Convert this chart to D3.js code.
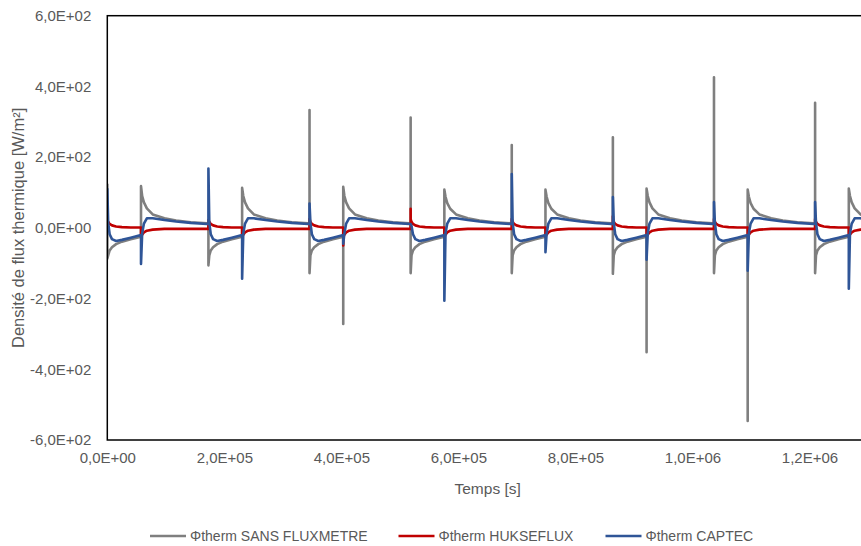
<!DOCTYPE html>
<html><head><meta charset="utf-8">
<script src="https://cdn.jsdelivr.net/npm/d3@7"></script>
<style>body{margin:0;background:#fff} svg{display:block}</style>
</head><body><svg id="chart" width="861" height="546"></svg>
<script>
// ---------- data ----------
const seriesNames = ["\u03A6therm SANS FLUXMETRE", "\u03A6therm HUKSEFLUX", "\u03A6therm CAPTEC"];
const seriesColors = ["#7f7f7f", "#c00000", "#2f5597"];

// time in seconds
const time = [
  0, 0, 0, 1500, 4000, 8000, 15000, 25000, 40000, 56000,
  57600, 57600, 57600, 59600, 62600, 67600, 77600, 97600, 117600, 142600, 170600,
  172800, 172800, 172800, 174300, 176800, 180800, 187800, 197800, 212800, 228800,
  230400, 230400, 230400, 232400, 235400, 240400, 250400, 270400, 290400, 315400, 343400,
  345600, 345600, 345600, 347100, 349600, 353600, 360600, 370600, 385600, 401600,
  403200, 403200, 403200, 405200, 408200, 413200, 423200, 443200, 463200, 488200, 516200,
  518400, 518400, 518400, 519900, 522400, 526400, 533400, 543400, 558400, 574400,
  576000, 576000, 576000, 578000, 581000, 586000, 596000, 616000, 636000, 661000, 689000,
  691200, 691200, 691200, 692700, 695200, 699200, 706200, 716200, 731200, 747200,
  748800, 748800, 748800, 750800, 753800, 758800, 768800, 788800, 808800, 833800, 861800,
  864000, 864000, 864000, 865500, 868000, 872000, 879000, 889000, 904000, 920000,
  921600, 921600, 921600, 923600, 926600, 931600, 941600, 961600, 981600, 1006600, 1034600,
  1036800, 1036800, 1036800, 1038300, 1040800, 1044800, 1051800, 1061800, 1076800, 1092800,
  1094400, 1094400, 1094400, 1096400, 1099400, 1104400, 1114400, 1134400, 1154400, 1179400, 1207400,
  1209600, 1209600, 1209600, 1211100, 1213600, 1217600, 1224600, 1234600, 1249600, 1265600,
  1267200, 1267200, 1267200, 1269200, 1272200, 1277200, 1287200, 1307200, 1327200, 1352200, 1380200
];

// W/m2
const sansFluxmetre = [
  125, 125, -87, -78, -64, -55, -46, -39, -32, -26,
  -26, -26, 118, 90, 72, 55, 38, 27, 21, 16, 13,
  13, 13, -106, -78, -64, -55, -46, -39, -32, -26,
  -26, -26, 113, 90, 72, 55, 38, 27, 21, 16, 13,
  13, 333, -128, -78, -64, -55, -46, -39, -32, -26,
  -26, -272, 116, 90, 72, 55, 38, 27, 21, 16, 13,
  13, 312, -128, -78, -64, -55, -46, -39, -32, -26,
  -26, -26, 108, 88, 70, 54, 38, 27, 21, 16, 13,
  13, 234, -128, -78, -64, -55, -46, -39, -32, -26,
  -26, -26, 108, 88, 70, 54, 38, 27, 21, 16, 13,
  13, 256, -130, -78, -64, -55, -46, -39, -32, -26,
  -26, -352, 111, 90, 72, 55, 38, 27, 21, 16, 13,
  13, 426, -128, -78, -64, -55, -46, -39, -32, -26,
  -26, -546, 108, 88, 70, 54, 38, 27, 21, 16, 13,
  13, 354, -128, -78, -64, -55, -46, -39, -32, -26,
  -26, -26, 111, 90, 72, 55, 38, 27, 21, 16, 13
];

const hukseflux = [
  22, 22, 22, 17, 11, 7, 4, 2, 1, 1,
  1, -25, -25, -19, -13, -8, -5, -3, -3, -3, -3,
  -3, 22, 22, 17, 11, 7, 4, 2, 1, 1,
  1, -27, -27, -19, -13, -8, -5, -3, -3, -3, -3,
  -3, 25, 25, 17, 11, 7, 4, 2, 1, 1,
  1, -50, -27, -19, -13, -8, -5, -3, -3, -3, -3,
  -3, 54, 25, 17, 11, 7, 4, 2, 1, 1,
  1, -27, -27, -19, -13, -8, -5, -3, -3, -3, -3,
  -3, 25, 25, 17, 11, 7, 4, 2, 1, 1,
  1, -25, -25, -19, -13, -8, -5, -3, -3, -3, -3,
  -3, 33, 25, 17, 11, 7, 4, 2, 1, 1,
  1, -25, -25, -19, -13, -8, -5, -3, -3, -3, -3,
  -3, 25, 25, 17, 11, 7, 4, 2, 1, 1,
  1, -25, -25, -19, -13, -8, -5, -3, -3, -3, -3,
  -3, 25, 25, 17, 11, 7, 4, 2, 1, 1,
  1, -25, -25, -19, -13, -8, -5, -3, -3, -3, -3
];

const captec = [
  112, 112, 112, 15, -18, -32, -37, -34, -28, -21,
  -21, -102, -102, -15, 12, 27, 27, 22, 18, 14, 11,
  11, 168, 168, 15, -18, -32, -37, -34, -28, -21,
  -21, -144, -144, -15, 12, 27, 27, 22, 18, 14, 11,
  11, 69, 69, 15, -18, -32, -37, -34, -28, -21,
  -21, -45, -45, -15, 12, 27, 27, 22, 18, 14, 11,
  11, 11, 11, 5, -18, -32, -37, -34, -28, -21,
  -21, -206, -206, -15, 12, 27, 27, 22, 18, 14, 11,
  11, 152, 152, 15, -18, -32, -37, -34, -28, -21,
  -21, -69, -69, -15, 12, 27, 27, 22, 18, 14, 11,
  11, 87, 87, 15, -18, -32, -37, -34, -28, -21,
  -21, -90, -90, -15, 12, 27, 27, 22, 18, 14, 11,
  11, 73, 73, 15, -18, -32, -37, -34, -28, -21,
  -21, -121, -121, -15, 12, 27, 27, 22, 18, 14, 11,
  11, 73, 73, 15, -18, -32, -37, -34, -28, -21,
  -21, -172, -172, -15, 12, 27, 27, 22, 18, 14, 11
];

const xTicks = [0, 200000, 400000, 600000, 800000, 1000000, 1200000];
const xTickLabels = ["0,0E+00", "2,0E+05", "4,0E+05", "6,0E+05", "8,0E+05", "1,0E+06", "1,2E+06"];
const yTicks = [-600, -400, -200, 0, 200, 400, 600];
const yTickLabels = ["-6,0E+02", "-4,0E+02", "-2,0E+02", "0,0E+00", "2,0E+02", "4,0E+02", "6,0E+02"];
const xTitle = "Temps [s]";
const yTitle = "Densit\u00e9 de flux thermique [W/m\u00b2]";

// ---------- drawing ----------
const W = 861, H = 546;
const m = {left: 107.3, top: 15.7, right: 868, bottom: 440};
const font = "'Liberation Sans', Arial, sans-serif";
const textColor = "#595959";

const svg = d3.select("#chart");
svg.append("rect").attr("width", W).attr("height", H).attr("fill", "#fff");

const x = d3.scaleLinear().domain([0, 1300000]).range([m.left, m.right]);
const y = d3.scaleLinear().domain([-600, 600]).range([m.bottom, m.top]);

svg.append("defs").append("clipPath").attr("id", "plotclip")
  .append("rect").attr("x", m.left).attr("y", m.top - 2)
  .attr("width", m.right - m.left).attr("height", m.bottom - m.top + 4);

const series = [sansFluxmetre, hukseflux, captec];
const line = d3.line().x(i => x(time[i])).y(i => y(0));
const g = svg.append("g").attr("clip-path", "url(#plotclip)");
series.forEach((vals, k) => {
  const ln = d3.line().x((d, i) => x(time[i])).y(d => y(d));
  g.append("path").datum(vals)
    .attr("d", ln)
    .attr("fill", "none")
    .attr("stroke", seriesColors[k])
    .attr("stroke-width", 2.6)
    .attr("stroke-linejoin", "round");
});

// plot border
svg.append("rect")
  .attr("x", m.left).attr("y", m.top)
  .attr("width", m.right - m.left).attr("height", m.bottom - m.top)
  .attr("fill", "none").attr("stroke", "#000").attr("stroke-width", 1.5);

// axes
const yAxis = d3.axisLeft(y).tickValues(yTicks).tickFormat((d, i) => yTickLabels[i]).tickSize(0).tickPadding(16);
const ya = svg.append("g").attr("transform", `translate(${m.left},0)`).call(yAxis);
ya.select(".domain").remove();
ya.selectAll("text").attr("fill", textColor).style("font-family", font).style("font-size", "15px");

const xAxis = d3.axisBottom(x).tickValues(xTicks).tickFormat((d, i) => xTickLabels[i]).tickSize(0).tickPadding(12);
const xa = svg.append("g").attr("transform", `translate(0,${m.bottom})`).call(xAxis);
xa.select(".domain").remove();
xa.selectAll("text").attr("fill", textColor).style("font-family", font).style("font-size", "15px");

// titles
svg.append("text").text(xTitle)
  .attr("x", (m.left + m.right) / 2).attr("y", 494)
  .attr("text-anchor", "middle").attr("fill", textColor)
  .style("font-family", font).style("font-size", "15.5px");

svg.append("text").text(yTitle)
  .attr("transform", `translate(24,${(m.top + m.bottom) / 2}) rotate(-90)`)
  .attr("text-anchor", "middle").attr("fill", textColor)
  .style("font-family", font).style("font-size", "16.5px");

// legend
const legendX = [150, 398.5, 605.5];
const legend = svg.append("g");
seriesNames.forEach((name, k) => {
  legend.append("line")
    .attr("x1", legendX[k]).attr("x2", legendX[k] + 36)
    .attr("y1", 536).attr("y2", 536)
    .attr("stroke", seriesColors[k]).attr("stroke-width", 2.6);
  legend.append("text").text(name)
    .attr("x", legendX[k] + 40).attr("y", 541)
    .attr("fill", textColor)
    .style("font-family", font).style("font-size", "14px");
});
</script>
</body></html>
